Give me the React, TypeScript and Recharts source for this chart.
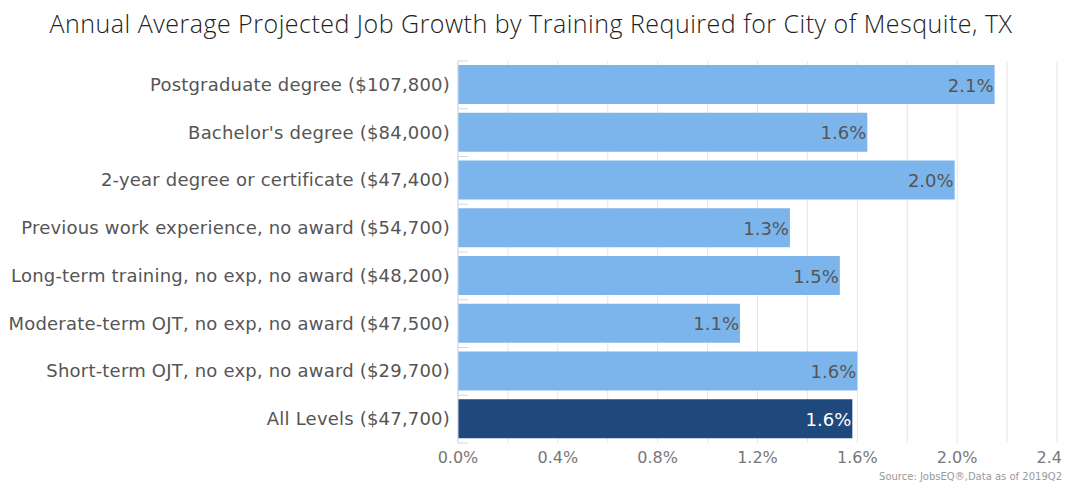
import React from 'react';
import { BarChart, Bar, XAxis, YAxis, CartesianGrid, Cell, LabelList } from 'recharts';

const categories = [
  'Postgraduate degree ($107,800)',
  "Bachelor's degree ($84,000)",
  '2-year degree or certificate ($47,400)',
  'Previous work experience, no award ($54,700)',
  'Long-term training, no exp, no award ($48,200)',
  'Moderate-term OJT, no exp, no award ($47,500)',
  'Short-term OJT, no exp, no award ($29,700)',
  'All Levels ($47,700)',
];
const growth = [2.15, 1.64, 1.99, 1.33, 1.53, 1.13, 1.6, 1.58];
const xTicks = [0, 0.2, 0.4, 0.6, 0.8, 1.0, 1.2, 1.4, 1.6, 1.8, 2.0, 2.2, 2.4];

const LIGHT = '#7cb5ec';
const DARK = '#1f497d';

const data = categories.map((name, i) => ({ name, value: growth[i] }));

const W = 1066;
const H = 482;
const MARGIN = { top: 61, right: 9, bottom: 0, left: 0 };
const X_AXIS_H = 39;
const BAND = (H - MARGIN.top - MARGIN.bottom - X_AXIS_H) / categories.length;

function CategoryTick(props: any) {
  const { x, y, payload } = props;
  return (
    <g>
      <text x={x} y={y} dy={6} textAnchor="end" fill="#555" fontSize={18} letterSpacing={0.2}>
        {payload.value}
      </text>
      <line x1={x + 8} x2={x + 18} y1={y - BAND / 2} y2={y - BAND / 2} stroke="#ccd6eb" />
      {payload.index === categories.length - 1 && (
        <line x1={x + 8} x2={x + 18} y1={y + BAND / 2} y2={y + BAND / 2} stroke="#ccd6eb" />
      )}
    </g>
  );
}

function NumberTick(props: any) {
  const { x, y, payload } = props;
  const v = payload.value as number;
  if (Math.round(v * 10) % 4 !== 0) return <g />;
  const last = v === xTicks[xTicks.length - 1];
  return (
    <text
      x={last ? x + 5 : x}
      y={y}
      dy={12}
      textAnchor={last ? 'end' : 'middle'}
      fill="#777"
      fontSize={16}
    >
      {last ? v.toFixed(1) : `${v.toFixed(1)}%`}
    </text>
  );
}

function ValueLabel(props: any) {
  const { x, y, width, height, value, index } = props;
  return (
    <text
      x={x + width - 1}
      y={y + height / 2}
      dy={7}
      textAnchor="end"
      fontSize={18}
      fill={index === categories.length - 1 ? '#ffffff' : '#555'}
    >
      {`${Number(value).toFixed(1)}%`}
    </text>
  );
}

export default function App() {
  return (
    <div
      style={{
        position: 'absolute',
        left: 0,
        top: 0,
        width: W,
        height: H,
        overflow: 'hidden',
        background: '#fff',
        fontFamily: '"DejaVu Sans", sans-serif',
      }}
    >
      <div
        style={{
          position: 'absolute',
          left: 0,
          top: 6,
          width: W - 4,
          textAlign: 'center',
          fontFamily: '"Open Sans", sans-serif',
          fontWeight: 300,
          fontSize: 25,
          letterSpacing: 0.5,
          color: '#222',
          whiteSpace: 'nowrap',
        }}
      >
        Annual Average Projected Job Growth by Training Required for City of Mesquite, TX
      </div>
      <BarChart width={W} height={H} data={data} layout="vertical" margin={MARGIN}>
        <CartesianGrid horizontal={false} stroke="#e6e6e6" />
        <XAxis
          type="number"
          domain={[0, 2.4]}
          ticks={xTicks}
          interval={0}
          height={X_AXIS_H}
          axisLine={false}
          tickLine={false}
          tick={<NumberTick />}
        />
        <YAxis
          type="category"
          dataKey="name"
          width={458}
          axisLine={{ stroke: '#ccd6eb' }}
          tickLine={false}
          tick={<CategoryTick />}
          interval={0}
        />
        <Bar dataKey="value" barSize={39} isAnimationActive={false}>
          {data.map((d, i) => (
            <Cell key={d.name} fill={i === categories.length - 1 ? DARK : LIGHT} />
          ))}
          <LabelList dataKey="value" content={<ValueLabel />} />
        </Bar>
      </BarChart>
      <div
        style={{
          position: 'absolute',
          right: 4,
          top: 471,
          fontSize: 10,
          color: '#999',
          whiteSpace: 'nowrap',
        }}
      >
        Source: JobsEQ®,Data as of 2019Q2
      </div>
    </div>
  );
}
